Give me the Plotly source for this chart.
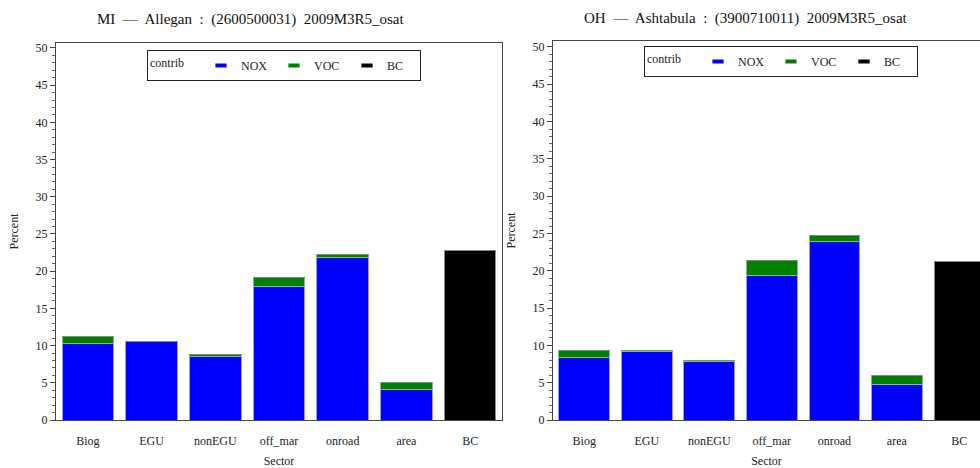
import plotly.graph_objects as go

sectors = ["Biog", "EGU", "nonEGU", "off_mar", "onroad", "area", "BC"]

mi_nox = [10.3, 10.5, 8.5, 17.9, 21.9, 4.1, 0]
mi_voc = [0.9, 0.1, 0.3, 1.3, 0.4, 0.95, 0]
mi_bc = [0, 0, 0, 0, 0, 0, 22.75]

oh_nox = [8.4, 9.2, 7.8, 19.4, 23.9, 4.7, 0]
oh_voc = [0.95, 0.1, 0.2, 2.0, 0.8, 1.3, 0]
oh_bc = [0, 0, 0, 0, 0, 0, 21.2]

title_mi = "MI  —  Allegan  :  (2600500031)  2009M3R5_osat"
title_oh = "OH  —  Ashtabula  :  (3900710011)  2009M3R5_osat"

FONT = "Liberation Serif"
W, H = 980, 468

series = [("NOX", "#0000ff", "#9a9aff"), ("VOC", "#008000", "#7fc07f"), ("BC", "#000000", "#888888")]

fig = go.Figure()
for (vals, xa, ya, lg) in [((mi_nox, mi_voc, mi_bc), "x", "y", "legend"),
                           ((oh_nox, oh_voc, oh_bc), "x2", "y2", "legend2")]:
    for (name, col, edge), v in zip(series, vals):
        fig.add_trace(go.Bar(
            x=sectors, y=v, name=name, xaxis=xa, yaxis=ya, showlegend=False,
            marker=dict(color=col, line=dict(color=edge, width=1)),
            hoverinfo="x+y+name",
        ))
    # legend entries drawn as small dashes, like the reference key
    for (name, col, edge) in series:
        fig.add_trace(go.Scatter(
            x=[None], y=[None], mode="markers", name=name, xaxis=xa, yaxis=ya, legend=lg,
            marker=dict(symbol="line-ew", size=8, color=col, line=dict(color=col, width=4)),
        ))

def yax(domain, rng, mirror, anchor):
    return dict(
        domain=domain, range=rng, anchor=anchor, tickvals=list(range(0, 51, 5)), automargin=False,
        ticks="outside", ticklen=5, tickcolor="#444", showgrid=False, zeroline=False,
        showline=True, linecolor="#444", linewidth=1, mirror=mirror,
        minor=dict(ticks="outside", ticklen=3, dtick=1, tickcolor="#666"),
        tickfont=dict(family=FONT, size=12, color="#222"),
        title=dict(text="Percent", font=dict(family=FONT, size=12, color="#222"), standoff=14),
    )

def xax(domain, rng, anchor):
    return dict(
        domain=domain, range=rng, anchor=anchor, showgrid=False, zeroline=False, automargin=False,
        showline=True, linecolor="#444", linewidth=1, mirror=True, ticks="",
        ticklabelstandoff=10,
        tickfont=dict(family=FONT, size=12, color="#222"),
        title=dict(text="Sector", font=dict(family=FONT, size=12, color="#222"), standoff=14),
    )

def leg(x, y):
    return dict(orientation="h", x=x, y=y, xanchor="left", yanchor="top",
                bordercolor="#222", borderwidth=1, bgcolor="white",
                title=dict(text="contrib   ", font=dict(family=FONT, size=12)),
                font=dict(family=FONT, size=12), entrywidth=28, itemwidth=30,
                valign="middle", tracegroupgap=0, traceorder="normal")

fig.update_layout(
    width=W, height=H, margin=dict(l=0, r=0, t=0, b=0, autoexpand=False),
    paper_bgcolor="white", plot_bgcolor="white",
    barmode="stack", bargap=0.19, showlegend=True,
    font=dict(family=FONT, size=12, color="#222"),
    xaxis=xax([56 / W, 502 / W], [-0.5, 6.5], "y"),
    yaxis=yax([1 - 420 / H, 1 - 43 / H], [0, 50.67], True, "x"),
    xaxis2=xax([553 / W, 1.0], [-0.5, 6.33], "y2"),
    yaxis2=yax([1 - 420 / H, 1 - 41 / H], [0, 50.8], False, "x2"),
    legend=leg(147 / W, 1 - 50 / H),
    legend2=leg(644 / W, 1 - 46 / H),
    annotations=[
        dict(text=title_mi, x=250 / W, y=1 - 20 / H, xref="paper", yref="paper",
             xanchor="center", yanchor="middle",
             showarrow=False, font=dict(family=FONT, size=15, color="#111")),
        dict(text=title_oh, x=746 / W, y=1 - 19 / H, xref="paper", yref="paper",
             xanchor="center", yanchor="middle",
             showarrow=False, font=dict(family=FONT, size=15, color="#111")),
    ],
)

fig.write_html(
    "out.html",
    config={"displayModeBar": False},
    post_script="document.body.style.margin='0';document.body.style.overflow='hidden';",
)
